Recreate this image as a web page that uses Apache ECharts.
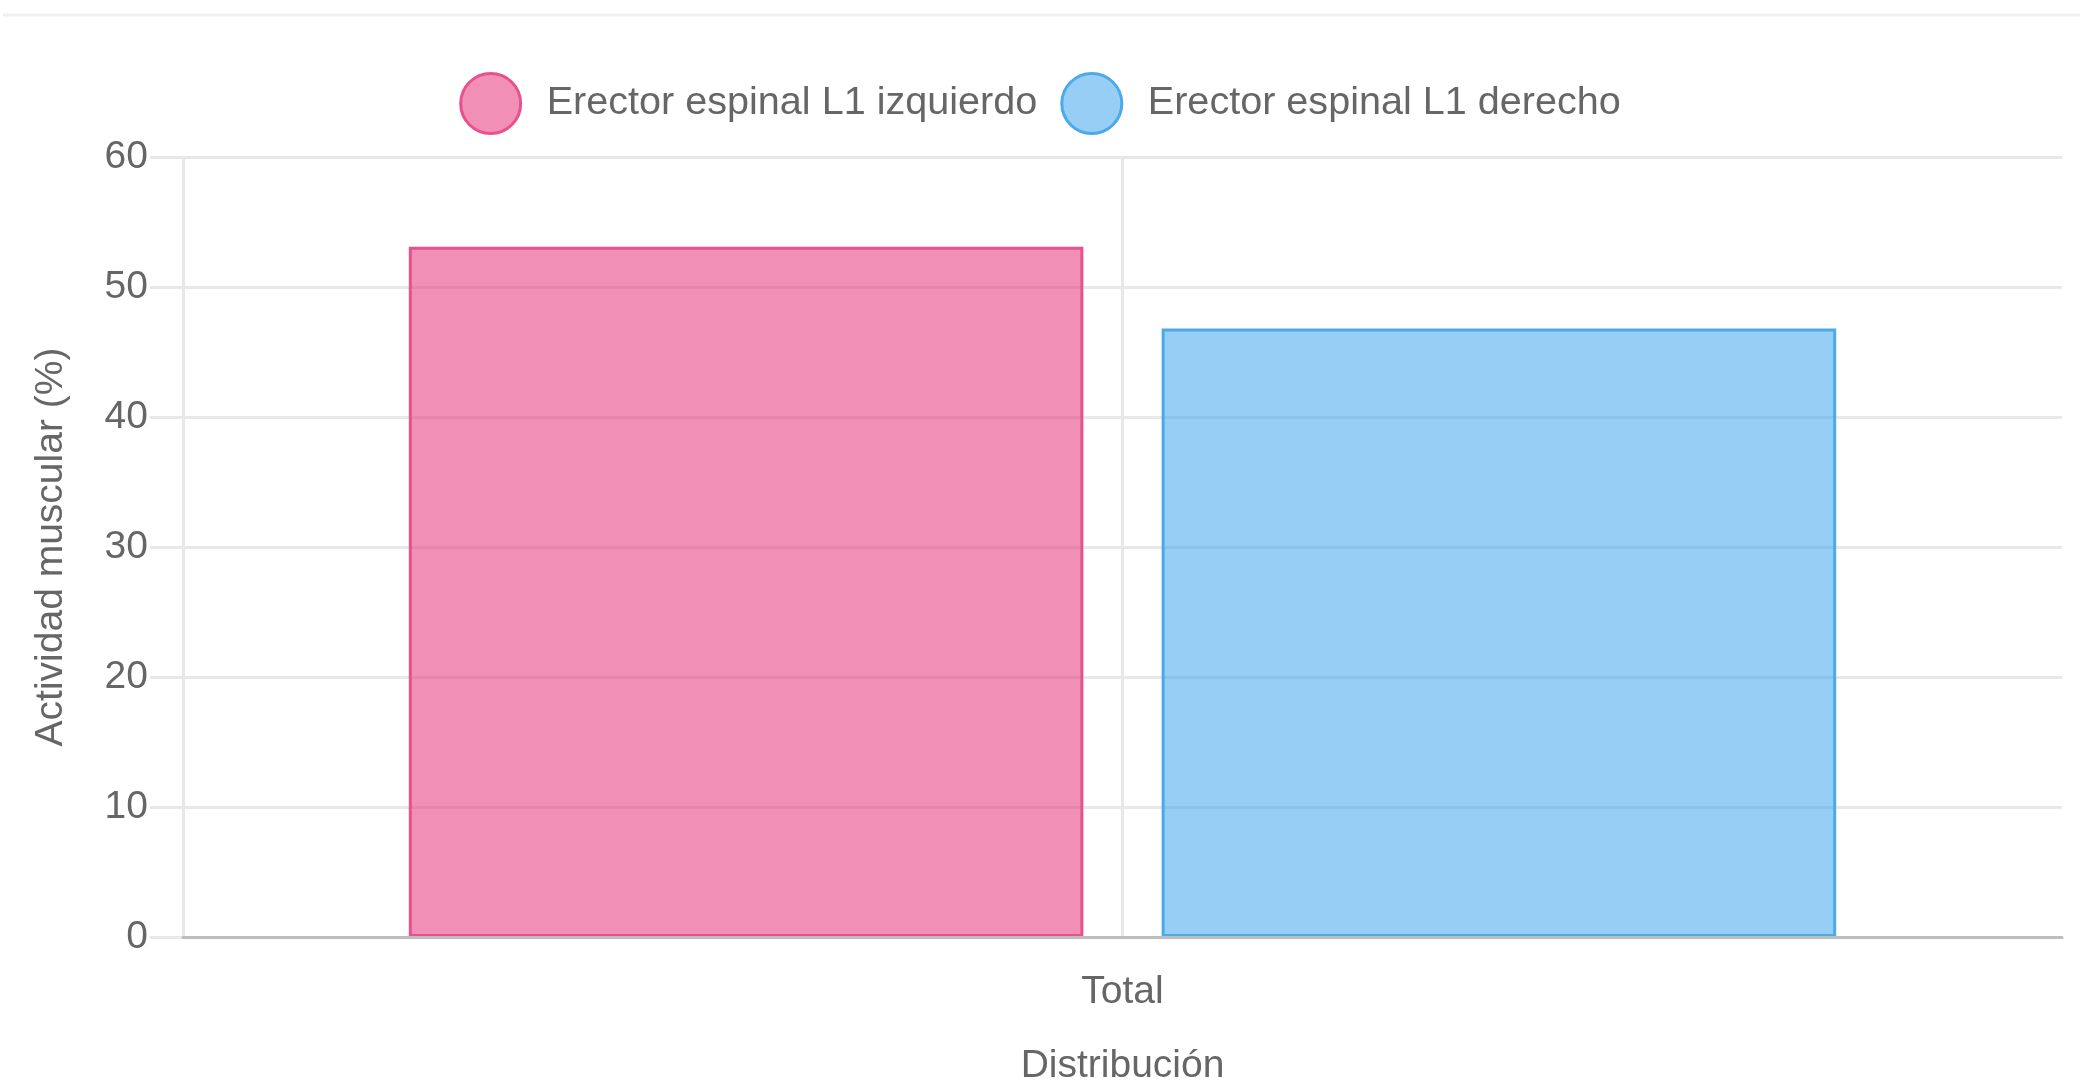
<!DOCTYPE html>
<html>
<head>
<meta charset="utf-8">
<title>Actividad muscular</title>
<script src="https://cdn.jsdelivr.net/npm/echarts@6/dist/echarts.min.js"></script>
<style>
  html, body { margin: 0; padding: 0; background: #fff; }
  #chart { width: 2080px; height: 1085px; }
</style>
</head>
<body>
<div id="chart"></div>
<script>
const categories = ["Total"];
const seriesNames = ["Erector espinal L1 izquierdo", "Erector espinal L1 derecho"];
const leftValues = [53.1];
const rightValues = [46.8];
const yTicks = { min: 0, max: 60, interval: 10 };

const textColor = "#666";
const gridColor = "#e8e8e8";
const fontFamily = "'Liberation Sans', Arial, sans-serif";

const chart = echarts.init(document.getElementById("chart"));

let option = {
  animation: false,
  textStyle: { fontFamily: fontFamily },
  graphic: [
    {
      // linea gris de la tarjeta arriba
      type: "line",
      shape: { x1: 3, y1: 15, x2: 2080, y2: 15 },
      style: { stroke: "#efefef", lineWidth: 3 },
    },
  ],
  legend: {
    top: 67,
    left: "center",
    icon: "circle",
    itemWidth: 60,
    itemHeight: 60,
    itemGap: 23,
    itemStyle: { borderWidth: 3 },
    textStyle: {
      color: textColor,
      fontSize: 39.6,
      fontFamily: fontFamily,
      padding: [0, 0, 0, 21],
    },
    data: seriesNames,
  },
  grid: {
    left: 183,
    right: 18,
    top: 157,
    bottom: 148,
    outerBoundsMode: "none",
  },
  xAxis: {
    type: "category",
    data: categories,
    z: 10,
    name: "Distribución",
    nameLocation: "middle",
    nameGap: 110,
    nameTextStyle: { color: textColor, fontSize: 39, fontFamily: fontFamily },
    axisLine: { lineStyle: { color: "#bdbdbd", width: 3 } },
    axisTick: {
      alignWithLabel: true,
      length: 30,
      lineStyle: { color: gridColor, width: 3 },
    },
    axisLabel: { color: textColor, fontSize: 39, margin: 36, fontFamily: fontFamily },
    // linea vertical en el centro de la categoria
    splitLine: {
      show: true,
      alignWithLabel: true,
      lineStyle: { color: gridColor, width: 3 },
    },
  },
  yAxis: {
    type: "value",
    min: yTicks.min,
    max: yTicks.max,
    interval: yTicks.interval,
    name: "Actividad muscular (%)",
    nameLocation: "middle",
    nameGap: 112,
    nameTextStyle: { color: textColor, fontSize: 39, fontFamily: fontFamily },
    axisLine: { show: true, lineStyle: { color: gridColor, width: 3 } },
    axisTick: { show: true, length: 33, lineStyle: { color: gridColor, width: 3 } },
    axisLabel: { color: textColor, fontSize: 39, margin: 35, fontFamily: fontFamily },
    splitLine: { lineStyle: { color: gridColor, width: 3 } },
  },
  series: [
    {
      name: seriesNames[0],
      type: "bar",
      data: leftValues,
      barWidth: "35.9%",
      barGap: "11.6%",
      itemStyle: {
        color: "rgba(232, 62, 128, 0.58)",
        borderColor: "#e8508e",
        borderWidth: 3,
      },
    },
    {
      name: seriesNames[1],
      type: "bar",
      data: rightValues,
      barWidth: "35.9%",
      barGap: "11.6%",
      itemStyle: {
        color: "rgba(54, 162, 235, 0.52)",
        borderColor: "#4daae8",
        borderWidth: 3,
      },
    },
  ],
};

chart.setOption(option);
</script>
</body>
</html>
